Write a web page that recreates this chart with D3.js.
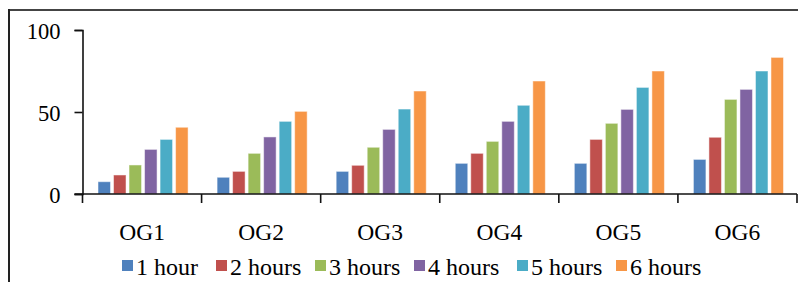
<!DOCTYPE html>
<html>
<head>
<meta charset="utf-8">
<script src="https://cdn.jsdelivr.net/npm/d3@7"></script>
<style>
  body { margin: 0; background: #fff; }
  svg { display: block; }
  .axis text, .legend text { font-family: "Liberation Serif", "Times New Roman", serif; fill: #000; }
</style>
</head>
<body>
<svg width="798" height="282"></svg>
<script>
var categories = ["OG1", "OG2", "OG3", "OG4", "OG5", "OG6"];
var seriesNames = ["1 hour", "2 hours", "3 hours", "4 hours", "5 hours", "6 hours"];
var colors = ["#4F81BD", "#C0504D", "#9BBB59", "#8064A2", "#4BACC6", "#F79646"];
// one array per series, values for OG1..OG6
var hour1 = [7.5, 10.2, 13.8, 18.7, 18.7, 21.1];
var hour2 = [11.6, 13.8, 17.5, 24.8, 33.3, 34.6];
var hour3 = [17.7, 24.8, 28.5, 32.1, 43.1, 57.7];
var hour4 = [27.2, 34.8, 39.4, 44.3, 51.6, 63.8];
var hour5 = [33.3, 44.3, 51.8, 54.1, 65.0, 75.0];
var hour6 = [40.7, 50.4, 62.8, 68.9, 75.0, 83.3];
var yTicks = [0, 50, 100];

var seriesValues = [hour1, hour2, hour3, hour4, hour5, hour6];

var svg = d3.select("svg");

// outer frame (top and left edges visible)
svg.append("line").attr("x1", 8).attr("x2", 798).attr("y1", 10).attr("y2", 10)
    .attr("stroke", "#444").attr("stroke-width", 2);
svg.append("line").attr("x1", 9).attr("x2", 9).attr("y1", 9).attr("y2", 282)
    .attr("stroke", "#222").attr("stroke-width", 2);

var plotLeft = 82.5, plotRight = 797, plotTop = 30, plotBottom = 194;

var x0 = d3.scaleBand().domain(categories).range([plotLeft, plotRight]).padding(0);
var x1 = d3.scaleBand().domain(seriesNames).range([14, x0.bandwidth() - 12]).padding(0);
var y = d3.scaleLinear().domain([0, 100]).range([plotBottom, plotTop]);

var data = categories.map(function (c, i) {
    return {
        cat: c,
        values: seriesNames.map(function (s, j) {
            return {name: s, value: seriesValues[j][i], color: colors[j]};
        })
    };
});

var groups = svg.append("g").selectAll("g")
    .data(data)
    .enter().append("g")
    .attr("transform", function (d) {
        return "translate(" + x0(d.cat) + ",0)";
    });

groups.selectAll("rect")
    .data(function (d) { return d.values; })
    .enter().append("rect")
    .attr("x", function (d) { return x1(d.name) + 1.5; })
    .attr("width", x1.bandwidth() - 3)
    .attr("y", function (d) { return y(d.value); })
    .attr("height", function (d) { return plotBottom - y(d.value); })
    .attr("fill", function (d) { return d.color; })
    .attr("stroke", "#fff")
    .attr("stroke-opacity", 0.5)
    .attr("stroke-width", 1);

// y axis
var yAxis = svg.append("g")
    .attr("class", "axis")
    .attr("transform", "translate(" + plotLeft + ",0)")
    .call(d3.axisLeft(y).tickValues(yTicks).tickSize(8).tickPadding(14));
yAxis.select(".domain").attr("stroke", "#111").attr("stroke-width", 1.6);
yAxis.selectAll(".tick line").attr("stroke", "#111").attr("stroke-width", 1.6);
yAxis.selectAll("text").style("font-size", "22.5px").attr("dy", "0.36em");

// x axis
var xAxis = svg.append("g")
    .attr("class", "axis")
    .attr("transform", "translate(0," + plotBottom + ")")
    .call(d3.axisBottom(x0).tickSize(0).tickPadding(30));
xAxis.select(".domain").attr("stroke", "#111").attr("stroke-width", 1.6)
    .attr("d", "M" + (plotLeft - 8) + ",0H" + plotRight);
xAxis.selectAll("text").style("font-size", "23.5px").attr("dy", "0.7em");

// category boundary ticks
var bounds = categories.map(function (c) { return x0(c); }).concat([plotRight]);
xAxis.selectAll(".bound")
    .data(bounds)
    .enter().append("line")
    .attr("class", "bound")
    .attr("x1", function (d) { return d; })
    .attr("x2", function (d) { return d; })
    .attr("y1", 0).attr("y2", 9)
    .attr("stroke", "#111").attr("stroke-width", 1.6);

// legend
var legendX = [122, 216, 315, 414, 517, 616];
var legend = svg.append("g").attr("class", "legend").selectAll("g")
    .data(seriesNames)
    .enter().append("g")
    .attr("transform", function (d, i) { return "translate(" + legendX[i] + ",260)"; });

legend.append("rect")
    .attr("width", 11).attr("height", 11)
    .attr("fill", function (d, i) { return colors[i]; });

legend.append("text")
    .attr("x", 14)
    .attr("y", 15)
    .style("font-size", "24px")
    .text(function (d) { return d; });
</script>
</body>
</html>
